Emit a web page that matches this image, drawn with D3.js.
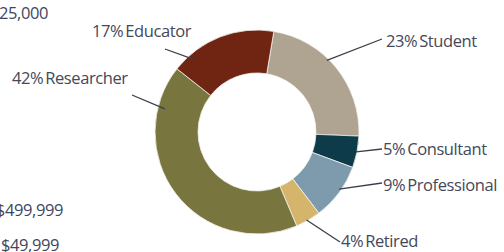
<!DOCTYPE html>
<html>
<head>
<meta charset="utf-8">
<script src="https://cdn.jsdelivr.net/npm/d3@7"></script>
<style>
  html, body { margin: 0; padding: 0; background: #fff; overflow: hidden; }
  #chart { width: 504px; height: 252px; }
  text { font-family: "Open Sans", sans-serif; fill: #454859; }
</style>
</head>
<body>
<div id="chart"></div>
<script>
(function () {
  ///////////////////////////////////////////////////////////// ! Data
  // Slices in drawing order (clockwise, starting just right of 12 o'clock)
  const categories = ["Student", "Consultant", "Professional", "Retired", "Researcher", "Educator"];
  const shares = [23, 5, 9, 4, 42, 17];
  const colors = ["#aea491", "#0d3b49", "#7d9bac", "#d4b56b", "#78753f", "#6f2512"];

  // Cut-off text from the neighbouring chart on the left
  const sideLabels = ["$100,000 to $125,000", "$250,000 to $499,999", "$25,000 to $49,999"];

  ///////////////////////////////////////////////////////////// ! Layout
  const width = 504;
  const height = 252;
  const cx = 257;
  const cy = 132;
  const outerR = 102;
  const innerR = 59;
  const startDeg = 9.5;

  // Label placement: text position, leader end, and where on the slice the leader starts
  const labelLayout = [
    { tx: 386, ty: 47, lx: 382, ly: 39, frac: 0.42, r: 100 },
    { tx: 383, ty: 155, lx: 382, ly: 149, frac: 0.5, r: 101 },
    { tx: 383, ty: 191, lx: 382, ly: 183, frac: 0.45, r: 100 },
    { tx: 341, ty: 247, lx: 340, ly: 242, frac: 0.55, r: 101 },
    { tx: 12, ty: 84, lx: 132, ly: 95, frac: 0.84, r: 95 },
    { tx: 92, ty: 37, lx: 165, ly: 49, frac: 0.18, r: 95 }
  ];
  // right edge of each cut-off fragment
  const sideEnd = [
    { x: 48, y: 19 },
    { x: 63, y: 216 },
    { x: 59, y: 251 }
  ];

  const svg = d3
    .select("#chart")
    .append("svg")
    .attr("width", width)
    .attr("height", height);

  ///////////////////////////////////////////////////////////// ! Pie
  const data = categories.map((c, i) => ({ name: c, value: shares[i], color: colors[i] }));

  const pie = d3
    .pie()
    .sort(null)
    .value((d) => d.value)
    .startAngle((startDeg * Math.PI) / 180)
    .endAngle((startDeg * Math.PI) / 180 + 2 * Math.PI);

  const arc = d3.arc().innerRadius(innerR).outerRadius(outerR);
  const arcs = pie(data);

  const g = svg.append("g").attr("transform", `translate(${cx},${cy})`);

  g.selectAll("path")
    .data(arcs)
    .enter()
    .append("path")
    .attr("d", arc)
    .style("fill", (d) => d.data.color)
    .style("stroke", "#f4f2ee")
    .style("stroke-width", 0.8);

  ///////////////////////////////////////////////////////////// ! Labels and leaders
  arcs.forEach((d, i) => {
    const l = labelLayout[i];
    const a = d.startAngle + l.frac * (d.endAngle - d.startAngle);
    const p = d3.pointRadial(a, l.r);

    svg
      .append("line")
      .attr("x1", cx + p[0])
      .attr("y1", cy + p[1])
      .attr("x2", l.lx)
      .attr("y2", l.ly)
      .style("stroke", "#3b3e4c")
      .style("stroke-width", 1.3);

    svg
      .append("text")
      .attr("x", l.tx)
      .attr("y", l.ty)
      .style("font-size", "16.5px")
      .style("letter-spacing", "-0.4px")
      .style("word-spacing", "-2px")
      .text(`${d.data.value}% ${d.data.name}`);
  });

  ///////////////////////////////////////////////////////////// ! Side fragments
  sideLabels.forEach((t, i) => {
    svg
      .append("text")
      .attr("x", sideEnd[i].x)
      .attr("y", sideEnd[i].y)
      .attr("text-anchor", "end")
      .style("font-size", "16.5px")
      .style("letter-spacing", "-0.4px")
      .style("fill", "#3e465f")
      .text(t);
  });
})();
</script>
</body>
</html>
